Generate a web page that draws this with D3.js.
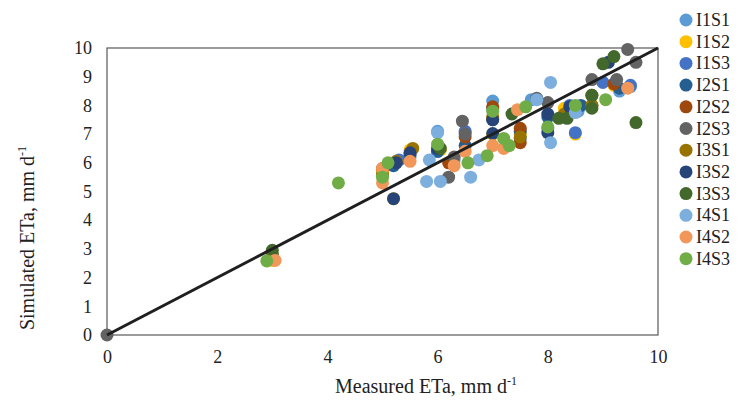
<!DOCTYPE html>
<html lang="en">
<head>
    <meta charset="UTF-8">
    <title>Simulated vs Measured ETa</title>
    <script src="https://d3js.org/d3.v7.min.js"></script>
    <style>
        body { margin: 0; background: #fff; }
        text { font-family: "Liberation Serif", "DejaVu Serif", serif; fill: #222; }
    </style>
</head>
<body>
    <svg id="chart" width="739" height="400"></svg>
    <script>
        // series names and colours, legend order
        var seriesNames = ["I1S1", "I1S2", "I1S3", "I2S1", "I2S2", "I2S3", "I3S1", "I3S2", "I3S3", "I4S1", "I4S2", "I4S3"];
        var seriesColors = ["#5B9BD5", "#FFC000", "#4472C4", "#255E91", "#9E480E", "#636363", "#997300", "#264478", "#43682B", "#7CAFDD", "#F1975A", "#70AD47"];

        // [measured, simulated] pairs
        var I1S1 = [[7.0, 8.15], [9.5, 8.65], [6.0, 7.1], [5.5, 6.2], [8.55, 7.8], [7.7, 8.2], [6.3, 6.1], [8.0, 7.2], [9.3, 8.5], [3.0, 2.7]];
        var I1S2 = [[5.2, 4.75], [6.05, 6.45], [8.5, 7.0], [5.5, 6.45], [7.0, 7.0], [9.2, 8.7], [5.0, 5.7], [7.5, 7.0], [8.3, 7.9], [3.0, 2.6]];
        var I1S3 = [[8.5, 7.05], [9.5, 8.7], [6.5, 7.1], [5.3, 6.1], [7.5, 6.85], [8.4, 8.0], [6.0, 6.4], [7.0, 7.9], [9.0, 8.8], [3.0, 2.7]];
        var I2S1 = [[6.0, 6.4], [6.5, 6.6], [7.0, 7.5], [5.5, 6.3], [8.0, 7.6], [9.3, 8.6], [5.2, 5.9], [7.5, 7.1], [8.6, 8.0], [3.0, 2.8]];
        var I2S2 = [[7.0, 7.95], [7.5, 7.2], [7.5, 6.7], [5.0, 5.8], [9.2, 8.75], [8.8, 8.0], [6.2, 6.0], [8.3, 7.6], [6.5, 6.9], [3.0, 2.7]];
        var I2S3 = [[0, 0], [6.45, 7.45], [6.5, 7.0], [6.2, 5.5], [7.8, 8.25], [9.45, 9.95], [9.25, 8.9], [8.0, 8.1], [9.6, 9.5], [8.8, 8.9], [6.3, 6.2]];
        var I3S1 = [[5.55, 6.5], [5.25, 6.05], [7.5, 6.9], [7.0, 7.55], [8.8, 8.0], [8.8, 8.35], [7.0, 7.6], [5.0, 5.6], [8.3, 7.7], [3.0, 2.8]];
        var I3S2 = [[5.2, 4.75], [5.5, 6.35], [5.25, 6.0], [7.0, 7.5], [8.0, 7.7], [8.0, 7.05], [8.4, 7.95], [9.1, 9.5], [6.0, 6.5], [7.0, 7.02]];
        var I3S3 = [[3.0, 2.95], [7.35, 7.7], [8.2, 7.55], [8.35, 7.55], [8.8, 8.35], [8.8, 7.9], [9.0, 9.45], [9.2, 9.7], [9.6, 7.4], [6.05, 6.5]];
        var I4S1 = [[5.8, 5.35], [6.05, 5.35], [6.0, 7.05], [6.6, 5.5], [6.75, 6.1], [8.05, 6.7], [5.85, 6.1], [7.8, 8.2], [8.5, 7.75], [8.05, 8.8]];
        var I4S2 = [[3.05, 2.6], [5.0, 5.3], [5.0, 5.8], [5.5, 6.05], [6.3, 5.9], [7.0, 6.6], [7.45, 7.85], [9.45, 8.6], [6.5, 6.4], [7.2, 6.5]];
        var I4S3 = [[2.9, 2.58], [4.2, 5.3], [5.0, 5.5], [5.1, 6.0], [6.0, 6.65], [6.55, 6.0], [6.9, 6.25], [7.2, 6.85], [7.3, 6.6], [7.0, 7.8], [7.6, 7.95], [8.0, 7.25], [8.5, 8.0], [9.05, 8.2]];
        var seriesData = [I1S1, I1S2, I1S3, I2S1, I2S2, I2S3, I3S1, I3S2, I3S3, I4S1, I4S2, I4S3];

        var xTicks = [0, 2, 4, 6, 8, 10];
        var yTicks = [0, 1, 2, 3, 4, 5, 6, 7, 8, 9, 10];
        var oneToOne = [[0, 0], [10, 10]];

        var svg = d3.select("#chart");

        // plot area
        var plotLeft = 107, plotRight = 658, plotTop = 48, plotBottom = 335;

        var x = d3.scaleLinear().domain([0, 10]).range([plotLeft, plotRight]);
        var y = d3.scaleLinear().domain([0, 10]).range([plotBottom, plotTop]);

        // plot area border
        svg.append("rect")
           .attr("x", plotLeft)
           .attr("y", plotTop)
           .attr("width", plotRight - plotLeft)
           .attr("height", plotBottom - plotTop)
           .attr("fill", "none")
           .attr("stroke", "#595959")
           .attr("stroke-width", 1.2);

        // tick labels
        var xAxis = svg.append("g")
           .attr("transform", "translate(0," + plotBottom + ")")
           .call(d3.axisBottom(x).tickValues(xTicks).tickSize(0).tickPadding(15));
        var yAxis = svg.append("g")
           .attr("transform", "translate(" + plotLeft + ",0)")
           .call(d3.axisLeft(y).tickValues(yTicks).tickSize(0).tickPadding(15));
        [xAxis, yAxis].forEach(function(a) {
            a.select(".domain").remove();
            a.selectAll("text")
             .style("font-family", "'Liberation Serif', serif")
             .style("font-size", "18px")
             .attr("fill", "#222");
        });

        // scatter points, one group per series
        seriesData.forEach(function(pts, i) {
            svg.append("g")
               .selectAll("circle")
               .data(pts)
               .enter().append("circle")
               .attr("cx", d => x(d[0]))
               .attr("cy", d => y(d[1]))
               .attr("r", 6.5)
               .attr("fill", seriesColors[i]);
        });

        // 1:1 line
        svg.append("path")
           .datum(oneToOne)
           .attr("d", d3.line().x(d => x(d[0])).y(d => y(d[1])))
           .attr("stroke", "#1f1f1f")
           .attr("stroke-width", 3)
           .attr("fill", "none");

        // axis titles
        var xTitle = svg.append("text")
           .attr("x", 426)
           .attr("y", 393)
           .attr("text-anchor", "middle")
           .style("font-size", "20px");
        xTitle.append("tspan").text("Measured ETa, mm d");
        xTitle.append("tspan").attr("dy", -8).style("font-size", "12px").text("-1");

        var yTitle = svg.append("text")
           .attr("transform", "translate(34,238) rotate(-90)")
           .attr("text-anchor", "middle")
           .style("font-size", "20px");
        yTitle.append("tspan").text("Simulated ETa, mm d");
        yTitle.append("tspan").attr("dy", -8).style("font-size", "12px").text("-1");

        // legend
        var legend = svg.selectAll(".legend")
           .data(seriesNames)
           .enter().append("g")
           .attr("class", "legend")
           .attr("transform", function(d, i) { return "translate(686," + (20 + i * 21.7) + ")"; });

        legend.append("circle")
              .attr("r", 6.5)
              .attr("fill", (d, i) => seriesColors[i]);

        legend.append("text")
              .attr("x", 10)
              .attr("y", 6)
              .style("font-size", "18px")
              .text(d => d);
    </script>
</body>
</html>
